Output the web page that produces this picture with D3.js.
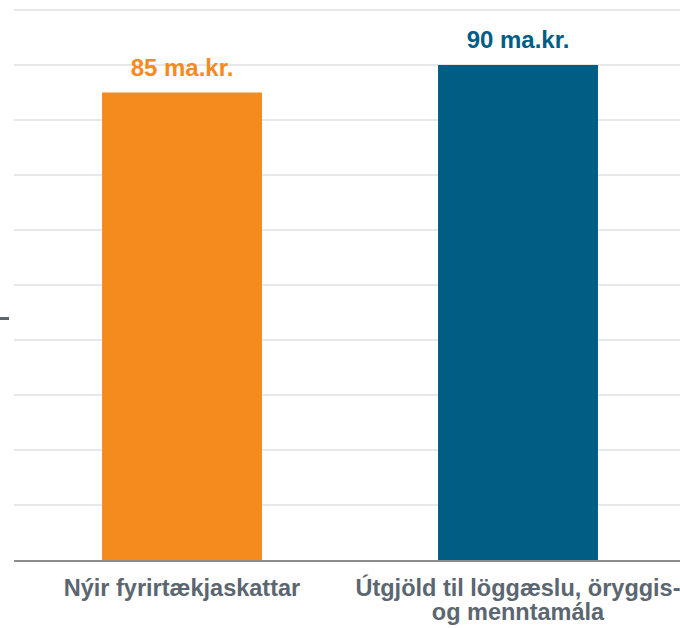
<!DOCTYPE html>
<html>
<head>
<meta charset="utf-8">
<script src="https://cdn.jsdelivr.net/npm/d3@7"></script>
<style>
  html, body { margin: 0; padding: 0; background: #fff; }
  svg { display: block; font-family: "Liberation Sans", Arial, sans-serif; }
</style>
</head>
<body>
<script>
// data
var categories = ["Nýir fyrirtækjaskattar", "Útgjöld til löggæslu, öryggis- og menntamála"];
var labelLines = [["Nýir fyrirtækjaskattar"], ["Útgjöld til löggæslu, öryggis-", "og menntamála"]];
var values = [85, 90];
var valueLabels = ["85 ma.kr.", "90 ma.kr."];
var colours = ["#f58b1f", "#005d84"];
var gridTicks = [10, 20, 30, 40, 50, 60, 70, 80, 90, 100];

var width = 680, height = 628;

var svg = d3.select("body").append("svg")
    .attr("width", width)
    .attr("height", height);

var y = d3.scaleLinear().domain([0, 100]).range([560, 10]);
var x = d3.scaleBand()
    .domain(categories)
    .range([14, 686])
    .paddingInner(0.524)
    .paddingOuter(0.262);

// gridlines
svg.append("g")
    .attr("class", "grid")
    .selectAll("line")
    .data(gridTicks)
    .enter().append("line")
    .attr("x1", 14)
    .attr("x2", width)
    .attr("y1", function(d) { return y(d); })
    .attr("y2", function(d) { return y(d); })
    .attr("stroke", "#e8e8e8")
    .attr("stroke-width", 2);

// bars
svg.append("g")
    .selectAll("rect")
    .data(values)
    .enter().append("rect")
    .attr("x", function(d, i) { return x(categories[i]); })
    .attr("y", function(d) { return y(d); })
    .attr("width", x.bandwidth())
    .attr("height", function(d) { return y(0) - y(d); })
    .attr("fill", function(d, i) { return colours[i]; });

// baseline
svg.append("line")
    .attr("x1", 14)
    .attr("x2", width)
    .attr("y1", y(0) + 1)
    .attr("y2", y(0) + 1)
    .attr("stroke", "#8c8c8c")
    .attr("stroke-width", 2);

// value labels
svg.append("g")
    .selectAll("text")
    .data(values)
    .enter().append("text")
    .attr("x", function(d, i) { return x(categories[i]) + x.bandwidth() / 2; })
    .attr("y", function(d) { return y(d) - 17; })
    .attr("text-anchor", "middle")
    .attr("font-size", 24)
    .attr("font-weight", "bold")
    .attr("fill", function(d, i) { return colours[i]; })
    .text(function(d, i) { return valueLabels[i]; });

// category labels
var cat = svg.append("g")
    .selectAll("text")
    .data(categories)
    .enter().append("text")
    .attr("x", function(d) { return x(d) + x.bandwidth() / 2; })
    .attr("y", 596)
    .attr("text-anchor", "middle")
    .attr("font-size", 23.5)
    .attr("font-weight", "bold")
    .attr("fill", "#5b6670");

cat.selectAll("tspan")
    .data(function(d, i) { return labelLines[i]; })
    .enter().append("tspan")
    .attr("x", function() { return d3.select(this.parentNode).attr("x"); })
    .attr("dy", function(d, j) { return j === 0 ? 0 : 24; })
    .text(function(d) { return d; });

// leftover tick of a cropped axis title at the left edge
svg.append("line")
    .attr("x1", 0)
    .attr("x2", 9)
    .attr("y1", 318.5)
    .attr("y2", 318.5)
    .attr("stroke", "#5b6670")
    .attr("stroke-width", 3);
</script>
</body>
</html>
